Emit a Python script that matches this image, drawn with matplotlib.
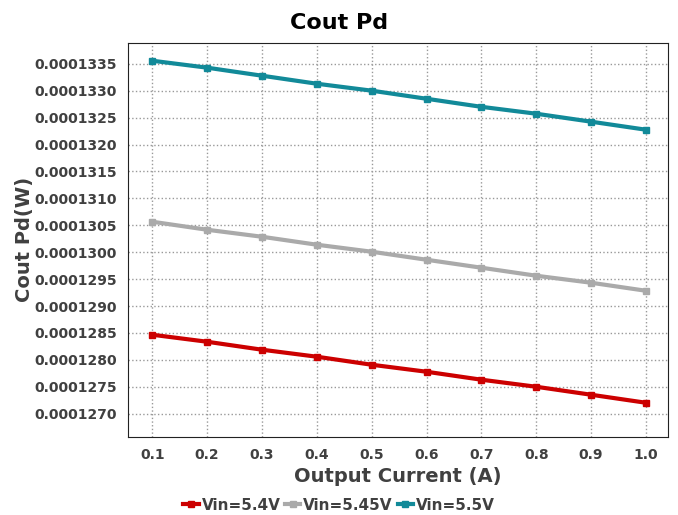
import matplotlib
matplotlib.use("Agg")
import matplotlib.pyplot as plt
from matplotlib.ticker import FormatStrFormatter, MultipleLocator

current = [0.1, 0.2, 0.3, 0.4, 0.5, 0.6, 0.7, 0.8, 0.9, 1.0]
pd_54 = [1.28467e-4, 1.28337e-4, 1.28189e-4, 1.28059e-4, 1.27910e-4,
         1.27780e-4, 1.27632e-4, 1.27501e-4, 1.27353e-4, 1.27204e-4]
pd_545 = [1.30566e-4, 1.30417e-4, 1.30287e-4, 1.30139e-4, 1.30009e-4,
          1.29860e-4, 1.29712e-4, 1.29563e-4, 1.29433e-4, 1.29284e-4]
pd_55 = [1.33556e-4, 1.33427e-4, 1.33278e-4, 1.33129e-4, 1.33000e-4,
         1.32850e-4, 1.32700e-4, 1.32572e-4, 1.32424e-4, 1.32275e-4]
labels = ["Vin=5.4V", "Vin=5.45V", "Vin=5.5V"]
colors = ["#cc0000", "#aaaaaa", "#128a99"]

txt = "#404040"
plt.rcParams['font.weight'] = 'bold'

fig = plt.figure(figsize=(6.78, 5.15), dpi=100)
ax = fig.add_axes([0.189, 0.152, 0.796, 0.765])

for ys, lab, c in zip([pd_54, pd_545, pd_55], labels, colors):
    ax.plot(current, ys, color=c, lw=3, marker='s', ms=5, label=lab)

ax.set_xlim(0.056, 1.04)
ax.set_ylim(1.26573e-4, 1.33890e-4)
ax.xaxis.set_major_locator(MultipleLocator(0.1))
ax.yaxis.set_major_locator(MultipleLocator(5e-7))
ax.xaxis.set_major_formatter(FormatStrFormatter('%.1f'))
ax.yaxis.set_major_formatter(FormatStrFormatter('%.7f'))
ax.tick_params(labelsize=10, labelcolor=txt, length=0, pad=8)
ax.grid(True, ls=':', color='#999999', lw=1)
for s in ax.spines.values():
    s.set_color('#222222')

fig.suptitle("Cout Pd", x=0.5, y=0.975, fontsize=16, fontweight='bold', color='black')
ax.set_xlabel("Output Current (A)", fontsize=14, fontweight='bold', color=txt)
ax.set_ylabel("Cout Pd(W)", fontsize=14, fontweight='bold', color=txt, labelpad=0)

leg = fig.legend(loc='center', bbox_to_anchor=(0.5, 10 / 515), ncol=3, frameon=False,
                 fontsize=11, handlelength=1.0, handletextpad=0.2, columnspacing=0.3)
for t in leg.get_texts():
    t.set_color(txt)

fig.savefig("out.png", dpi=100)
